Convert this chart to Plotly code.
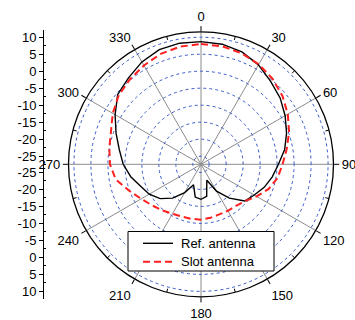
import plotly.graph_objects as go

# ---- data (dB) at 10-degree steps, 0..350 deg ----
angles = list(range(0, 360, 10))
ref_antenna = [8.7, 8.5, 7.8, 6.4, 4.5, 3.0, 1.2, -0.6, -2.4, -4.6,
               -6.1, -7.6, -9.3, -10.6, -14.4, -18.3, -22.4, -17.8,
               -17.1, -17.6, -21.0, -17.8, -14.4, -11.7, -9.8, -8.5,
               -6.4, -4.5, -3.0, -0.8, 1.8, 4.6, 5.8, 7.4, 8.5, 8.8]
slot_antenna = [8.0, 7.9, 7.4, 6.6, 5.4, 3.9, 2.1, 0.2, -1.8, -3.4,
                -4.5, -6.2, -8.5, -10.5, -11.4, -11.6, -11.7, -11.4,
                -11.1, -11.1, -11.0, -10.6, -9.7, -8.6, -7.1, -4.8,
                -1.9, -0.6, 0.0, 0.8, 2.6, 4.2, 5.2, 6.2, 7.2, 7.8]
series_names = ["Ref. antenna", "Slot antenna"]
angle_ticks = list(range(0, 360, 30))
radial_ticks = [10, 5, 0, -5, -10, -15, -20, -25]
r_min, r_max = -27.4, 11.6

# close the curves
th_closed = angles + [360]
ref_closed = ref_antenna + [ref_antenna[0]]
slot_closed = slot_antenna + [slot_antenna[0]]

W, H = 355, 320
cx, cy, R = 201.0, 164.3, 132.5
dom_x = [(cx - R) / W, (cx + R) / W]
dom_y = [1 - (cy + R) / H, 1 - (cy - R) / H]
px_per_db = R / (r_max - r_min)
FONT = "Arial, Liberation Sans, sans-serif"

BLACK_LINE = dict(color="black", width=1.4)
RED_LINE = dict(color="#ff2020", width=2, dash="7px,4px")

fig = go.Figure()

# minor ticks on the outer ring (every 15 deg between majors), inside
mt_th, mt_r = [], []
for a in range(15, 360, 30):
    mt_th += [a, a, None]
    mt_r += [r_max, r_max - 1.1, None]
fig.add_trace(go.Scatterpolar(theta=mt_th, r=mt_r, mode="lines",
                              line=dict(color="black", width=1),
                              showlegend=False, hoverinfo="skip"))

fig.add_trace(go.Scatterpolar(theta=th_closed, r=ref_closed, mode="lines",
                              name=series_names[0], line=BLACK_LINE,
                              showlegend=False))
fig.add_trace(go.Scatterpolar(theta=th_closed, r=slot_closed, mode="lines",
                              name=series_names[1], line=RED_LINE,
                              showlegend=False))

# invisible trace to carry the left linear scale axis
fig.add_trace(go.Scatter(x=[0], y=[0], mode="markers", marker=dict(opacity=0),
                         showlegend=False, hoverinfo="skip"))

off = -r_min
top_vals = [v + off for v in radial_ticks]
bot_vals = [-(v + off) for v in radial_ticks]
minor_top = [v + off for v in [7.5, 2.5, -2.5, -7.5, -12.5, -17.5, -22.5]]
minor_bot = [-(v + off) for v in [7.5, 2.5, -2.5, -7.5, -12.5, -17.5, -22.5]]
minor_mid = [0.0]
ax_top, ax_bot = 30, 299
ax_half = (ax_bot - ax_top) / 2 / px_per_db
ax_center = (ax_top + ax_bot) / 2
# shift so that the axis 0 sits at the polar centre
ax_shift = (ax_center - cy) / px_per_db
ydom = [1 - ax_bot / H, 1 - ax_top / H]

# ---- legend (box + samples + real text) ----
lx0, lx1, ly0, ly1 = 128, 274, 231.5, 271
rows_y = [243.3, 261.7]
shapes = [dict(type="rect", xref="paper", yref="paper",
               x0=lx0 / W, x1=lx1 / W, y0=1 - ly1 / H, y1=1 - ly0 / H,
               line=dict(color="black", width=1), fillcolor="white",
               layer="above")]
annotations = []
for name, ly, style in zip(series_names, rows_y, [BLACK_LINE, RED_LINE]):
    shapes.append(dict(type="line", xref="paper", yref="paper",
                       x0=143 / W, x1=173 / W, y0=1 - ly / H, y1=1 - ly / H,
                       line=style, layer="above"))
    annotations.append(dict(text=name, xref="paper", yref="paper",
                            x=179 / W, y=1 - ly / H, xanchor="left",
                            yanchor="middle", showarrow=False,
                            font=dict(size=13, family=FONT, color="black")))

fig.update_layout(
    width=W, height=H,
    margin=dict(l=0, r=0, t=0, b=0),
    paper_bgcolor="white", plot_bgcolor="rgba(0,0,0,0)",
    font=dict(family=FONT, size=13, color="black"),
    polar=dict(
        domain=dict(x=dom_x, y=dom_y),
        bgcolor="white",
        angularaxis=dict(rotation=90, direction="clockwise",
                         tickmode="array", tickvals=angle_ticks,
                         ticktext=[str(a) for a in angle_ticks],
                         ticks="outside", ticklen=5, tickcolor="black",
                         showline=True, linecolor="black", linewidth=1.3,
                         showgrid=True, gridcolor="#8c8c8c", gridwidth=1,
                         tickfont=dict(size=13, family=FONT, color="black")),
        radialaxis=dict(range=[r_min, r_max], tickmode="array",
                        tickvals=radial_ticks, showticklabels=False,
                        ticks="", showline=False,
                        showgrid=True, gridcolor="#3a5bc7", gridwidth=1,
                        griddash="dot"),
    ),
    xaxis=dict(domain=[0.12, 0.19], visible=False, range=[-1, 1]),
    yaxis=dict(domain=ydom, anchor="free", position=43 / W, side="left",
               range=[-ax_half - ax_shift, ax_half - ax_shift],
               tickmode="array",
               tickvals=top_vals + bot_vals,
               ticktext=[str(v) for v in radial_ticks] * 2,
               ticks="outside", ticklen=4, tickcolor="black",
               showline=True, linecolor="black", linewidth=1,
               showgrid=False, zeroline=False,
               minor=dict(tickvals=minor_top + minor_bot + minor_mid,
                          ticks="inside", ticklen=2, tickcolor="black",
                          showgrid=False),
               tickfont=dict(size=13, family=FONT, color="black")),
    shapes=shapes,
    annotations=annotations,
    showlegend=False,
)

fig.write_html("out.html",
               config={"displayModeBar": False},
               post_script="document.body.style.margin='0px';"
                           "document.body.style.overflow='hidden';")
